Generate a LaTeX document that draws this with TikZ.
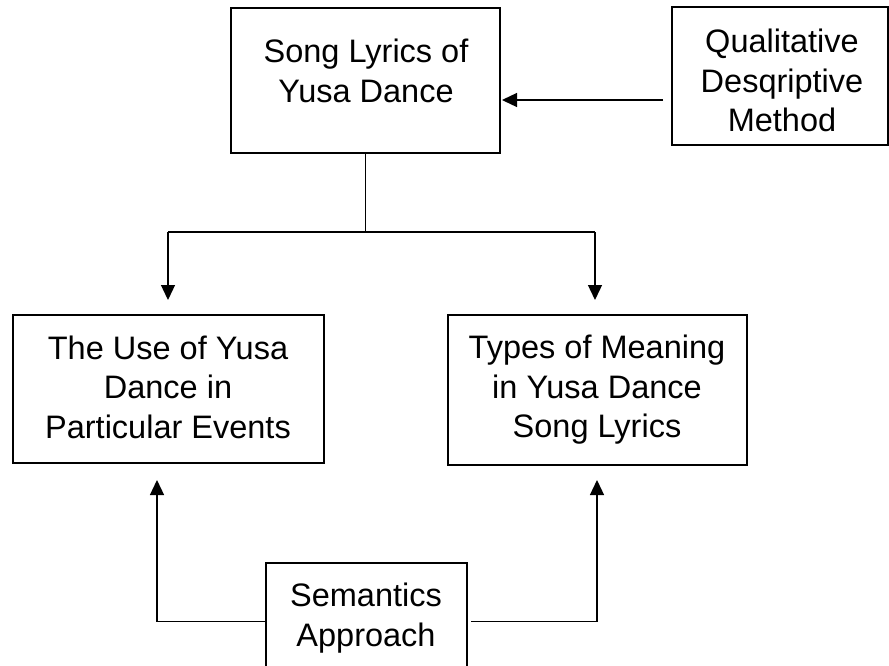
\documentclass[tikz,border=0pt]{standalone}
\usepackage{fontspec}
\setmainfont{Liberation Sans}
\usetikzlibrary{arrows.meta}
\begin{document}
\begin{tikzpicture}[x=1pt,y=-1pt,
  box/.style={draw=black, line width=2.8pt, inner sep=0pt},
  txt/.style={align=center, font=\fontsize{32.5}{39.5}\selectfont, inner sep=0pt},
  conn/.style={line width=1.3pt},
  arr/.style={conn, -{Triangle[length=15pt,width=14pt]}}]
\useasboundingbox (0,0) rectangle (889,665);
\clip (0,0) rectangle (889,665);
% boxes
\node[box, minimum width=269pt, minimum height=145pt] (song) at (365.5,80.5) {};
\node[box, minimum width=216pt, minimum height=138pt] (qual) at (780,76) {};
\node[box, minimum width=311pt, minimum height=148pt] (use) at (168.5,389) {};
\node[box, minimum width=299pt, minimum height=150pt] (types) at (597.5,390) {};
\node[box, minimum width=201pt, minimum height=117pt] (sem) at (366.5,621.5) {};
% texts
\node[txt] (songt) at (366,71) {Song Lyrics of\\Yusa Dance};
\node[txt] (qualt) at (782,80.5) {Qualitative\\Desqriptive\\Method};
\node[txt] (uset) at (168,387) {The Use of Yusa\\Dance in\\Particular Events};
\node[txt] (typest) at (597,390) {Types of Meaning\\in Yusa Dance\\Song Lyrics};
\node[txt] (semt) at (366,618) {Semantics\\Approach};
% connectors
\coordinate (j) at (365.5,232);
\coordinate (jl) at (168,232);
\coordinate (jr) at (595,232);
\coordinate (ul) at (168,300);
\coordinate (ur) at (595,300);
\draw[conn] (song.south) -- (j);
\draw[conn] (jl) -- (jr);
\draw[arr] (jl) -- (ul);
\draw[arr] (jr) -- (ur);
\coordinate (qs) at (663,100);
\coordinate (qe) at (502,100);
\draw[arr] (qs) -- (qe);
\coordinate (bla) at (157,480);
\coordinate (bra) at (597,480);
\draw[arr] (sem.west) -| (bla);
\draw[arr] ([xshift=3pt]sem.east) -| (bra);
\end{tikzpicture}
\end{document}
